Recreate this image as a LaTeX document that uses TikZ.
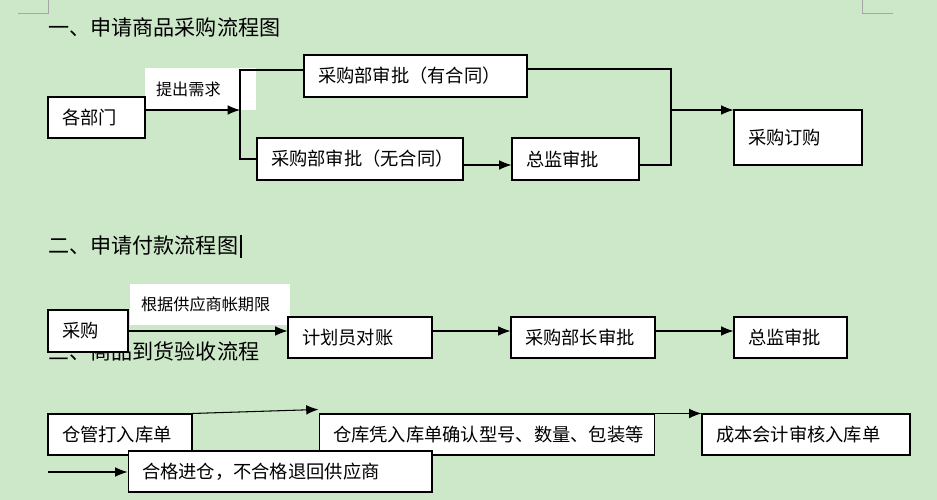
\documentclass[tikz,border=0pt]{standalone}
\usepackage{fontspec}
\setmainfont{Noto Sans CJK SC}
\usetikzlibrary{arrows.meta, positioning, calc}
\definecolor{bggreen}{RGB}{205,231,201}
\begin{document}
\begin{tikzpicture}[
        x=0.02cm, y=-0.02cm,
        box/.style={rectangle, draw, fill=white, line width=0.6pt, minimum height=0.84cm, inner xsep=0.28cm, align=left, font=\fontsize{10.4pt}{12pt}\selectfont},
        tag/.style={rectangle, fill=white, minimum height=0.84cm, inner xsep=0.22cm, align=left, font=\fontsize{9.2pt}{11pt}\selectfont},
        title/.style={anchor=west, inner sep=0pt, font=\fontsize{12pt}{14pt}\selectfont},
        flow/.style={-{Latex[length=7pt,width=5.5pt]}, line width=0.6pt},
        wire/.style={line width=0.6pt},
        cropmark/.style={gray!70, line width=0.4pt}
    ]
        % Page
        \fill[bggreen] (0,0) rectangle (937,500);
        \useasboundingbox (0,0) rectangle (937,500);
        \draw[cropmark] (48,0) -- (48,13) -- (18,13);
        \draw[cropmark] (862,0) -- (862,13) -- (893,13);

        % Headings
        \node[title] (h1) at (48,27) {一、申请商品采购流程图};
        \node[title] (h2) at (48,246) {二、申请付款流程图};
        \node[title] (h3) at (48,351) {三、商品到货验收流程};
        \draw[wire] (241,235) -- (241,258);

        % Part one
        \node[tag, minimum width=2.22cm, text width=1.78cm] (need) at (200.5,89) {提出需求};
        \node[box, minimum width=1.94cm, minimum height=0.82cm, text width=1.38cm] (dept) at (96.5,117.5) {各部门};
        \node[box, minimum width=4.46cm, text width=3.9cm] (yes) at (415.5,76) {采购部审批（有合同）};
        \node[box, minimum width=4.12cm, text width=3.56cm] (no) at (360,159) {采购部审批（无合同）};
        \node[box, minimum width=2.54cm, text width=1.98cm] (dir1) at (575.5,159) {总监审批};
        \node[box, minimum width=2.56cm, minimum height=1.1cm, text width=2cm] (order) at (798,137.5) {采购订购\\[0.8em]};

        \coordinate (split) at (240,110);
        \coordinate (join) at (671,110);
        \draw[flow] (dept.east |- split) -- (split);
        \draw[wire] (yes.west |- 0,70) -| (split) |- (no.west);
        \draw[flow] ([yshift=-0.12cm]no.east) -- ([yshift=-0.12cm]dir1.west);
        \draw[wire] (yes.east |- 0,69) -| (join) |- ([yshift=-0.12cm]dir1.east);
        \draw[flow] (join) -- (order.west |- join);

        % Part two
        \node[tag, minimum width=3.2cm, minimum height=0.82cm, text width=2.76cm] (term) at (210,304.5) {根据供应商帐期限};
        \node[box, minimum width=1.6cm, text width=1.04cm] (buy) at (88,331) {采购};
        \node[box, minimum width=2.88cm, minimum height=0.82cm, text width=2.32cm] (plan) at (360,337.5) {计划员对账};
        \node[box, minimum width=2.88cm, minimum height=0.82cm, text width=2.32cm] (head) at (583,337.5) {采购部长审批};
        \node[box, minimum width=2.26cm, minimum height=0.82cm, text width=1.7cm] (dir2) at (790.5,337.5) {总监审批};

        \draw[flow] (buy.east) -- (plan.west |- buy.east);
        \draw[flow] ([yshift=0.13cm]plan.east) -- ([yshift=0.13cm]head.west);
        \draw[flow] ([yshift=0.13cm]head.east) -- ([yshift=0.13cm]dir2.west);

        % Part three
        \node[box, minimum width=2.88cm, minimum height=0.82cm, text width=2.32cm] (keeper) at (120,434.5) {仓管打入库单};
        \node[box, minimum width=6.72cm, minimum height=0.82cm, text width=6.16cm] (check) at (487,434.5) {仓库凭入库单确认型号、数量、包装等};
        \node[box, minimum width=4.16cm, minimum height=0.82cm, text width=3.6cm] (cost) at (806,434.5) {成本会计审核入库单};
        \node[box, minimum width=6.08cm, minimum height=0.82cm, text width=5.52cm] (pass) at (280,471.5) {合格进仓，不合格退回供应商};

        \coordinate (back) at (48,472);
        \draw[flow] (keeper.north east) -- ([yshift=0.08cm]check.north west);
        \draw[flow] (check.north east) -- (cost.north west);
        \draw[flow] (back) -- (pass.west |- back);
    \end{tikzpicture}
\end{document}
